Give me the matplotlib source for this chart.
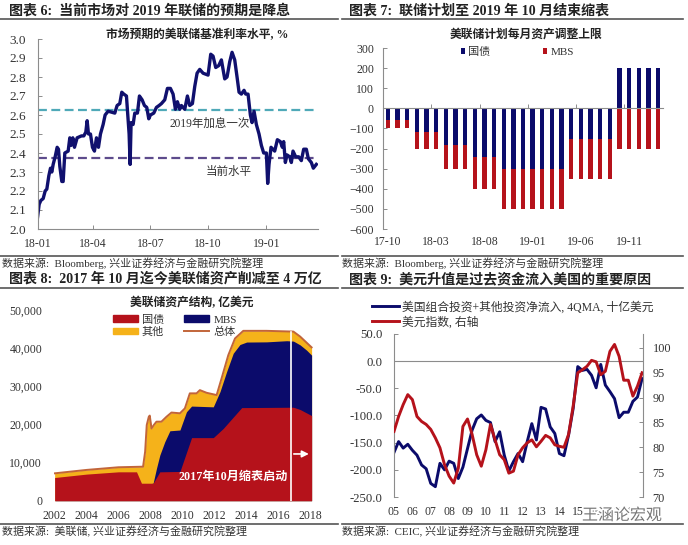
import matplotlib
matplotlib.use("Agg")
import matplotlib.pyplot as plt
import matplotlib.patheffects as pe
from matplotlib.patches import Patch
from matplotlib.lines import Line2D

plt.rcParams['font.family'] = ['Liberation Serif', 'Noto Sans CJK SC', 'DejaVu Sans']

W, H = 688, 545
GRAY = '#8c8c8c'
TXT = '#333333'
NAVY = '#0b0b6b'
RED = '#b5121b'

# chart 6: expected policy rate
rate_t = [0, 5, 10, 17, 23, 28, 34, 39, 43, 47, 53, 59, 63, 67, 73, 77, 82, 92, 97, 101, 106, 111, 119, 132,
          139, 145, 149, 153, 159, 165, 171, 177, 183, 189, 197, 203, 212, 232, 239, 247, 253, 259, 267, 271,
          275, 278, 281, 287, 292, 300, 306, 314, 321, 328, 334, 339, 349, 357, 365, 372, 382, 390, 399, 407,
          414, 420, 427, 432, 442, 450, 457, 465, 472, 479, 487, 497, 512, 520, 527, 535, 544, 552, 562, 569,
          577, 584, 592, 599, 605, 612, 620, 625, 632, 639, 644, 650, 657, 665, 672, 679, 687, 691, 695, 701,
          712, 720, 729, 735, 739, 744, 749, 757, 762, 767, 775, 784, 792, 799, 807, 813, 822, 828, 837]
rate_v = [2.06, 2.13, 2.15, 2.16, 2.20, 2.21, 2.28, 2.32, 2.30, 2.34, 2.38, 2.43, 2.42, 2.33, 2.25, 2.25, 2.40, 2.41,
          2.48, 2.44, 2.48, 2.43, 2.48, 2.49, 2.49, 2.51, 2.57, 2.50, 2.50, 2.43, 2.41, 2.48, 2.43, 2.50, 2.55, 2.60,
          2.62, 2.61, 2.65, 2.66, 2.72, 2.71, 2.70, 2.60, 2.50, 2.34, 2.56, 2.55, 2.61, 2.61, 2.70, 2.68, 2.65, 2.64,
          2.58, 2.60, 2.61, 2.64, 2.65, 2.66, 2.68, 2.74, 2.74, 2.71, 2.63, 2.67, 2.63, 2.65, 2.63, 2.70, 2.65, 2.66,
          2.75, 2.82, 2.84, 2.82, 2.81, 2.92, 2.91, 2.85, 2.86, 2.89, 2.79, 2.80, 2.88, 2.93, 2.89, 2.80, 2.72, 2.71,
          2.73, 2.71, 2.71, 2.60, 2.56, 2.62, 2.55, 2.50, 2.44, 2.40, 2.40, 2.24, 2.34, 2.43, 2.41, 2.47, 2.46, 2.43,
          2.46, 2.35, 2.39, 2.38, 2.35, 2.41, 2.38, 2.38, 2.36, 2.42, 2.42, 2.37, 2.35, 2.32, 2.34]
rate_tick_pos = [0, 167, 339, 512, 687]
rate_tick_lab = ['18-01', '18-04', '18-07', '18-10', '19-01']
hike_level = 2.625
now_level = 2.375

# chart 7: monthly cap
cap_labels = ['17-10', '18-03', '18-08', '19-01', '19-06', '19-11']
cap_tsy = [-60] * 3 + [-120] * 3 + [-180] * 3 + [-240] * 3 + [-300] * 7 + [-150] * 5 + [200] * 5
cap_mbs = [-40] * 3 + [-80] * 3 + [-120] * 3 + [-160] * 3 + [-200] * 7 + [-200] * 5 + [-200] * 5

# chart 8: balance sheet, top edge of each layer
tsy_x = [2002, 2004, 2006, 2007.13, 2007.44, 2008.17, 2008.59, 2009.85, 2010.58, 2011.94, 2012.56, 2013.72, 2016.96, 2017.38, 2018.1]
tsy_y = [6100, 7000, 7600, 7600, 4600, 4600, 7600, 7700, 16600, 16600, 19000, 24500, 24600, 24000, 22400]
mbs_x = [2002, 2008.17, 2008.38, 2008.59, 2008.9, 2009.22, 2009.85, 2010.26, 2010.58, 2011.94, 2012.36, 2012.77, 2013.19, 2013.61,
         2014.03, 2015.28, 2016.54, 2016.96, 2017.38, 2017.79, 2018.1]
mbs_y = [0, 4600, 8500, 12000, 15500, 18400, 18600, 23400, 24900, 24700, 28700, 33900, 38800, 41100, 41750, 41800, 42100, 42000,
         41000, 39600, 38300]
tot_x = [2002, 2004, 2006, 2007.54, 2007.67, 2007.77, 2007.9, 2007.96, 2008.07, 2008.21, 2008.38, 2008.69, 2009.01, 2009.32, 2009.85,
         2010.16, 2010.47, 2010.89, 2011.1, 2011.52, 2012.15, 2012.46, 2012.88, 2013.3, 2013.82, 2015.28, 2016.96, 2017.38, 2018.1]
tot_y = [7200, 8100, 8800, 8950, 12900, 19900, 22100, 22400, 19000, 19900, 20800, 20800, 22100, 23200, 23000, 24300, 28250, 28250,
         29100, 28400, 27800, 32200, 38300, 42700, 44700, 44700, 44500, 43200, 40350]
taper_year = 2016.81
bs_years = list(range(2002, 2019, 2))
bs_ticks = [0, 10000, 20000, 30000, 40000, 50000]

# chart 9: quarterly flows and dollar index, from 05Q1
flow = [-168, -148, -160, -153, -164, -173, -191, -198, -225, -231, -188, -200, -184, -188, -216, -195, -161, -127, -106,
        -99, -109, -113, -148, -130, -173, -202, -185, -170, -185, -148, -115, -145, -85, -88, -121, -133, -170, -174, -136,
        -87, -10, -17, -15, -26, -49, -6, -44, -56, -69, -104, -94, -94, -74, -66, -32]
dxy = [83.2, 86.2, 88.6, 90.6, 89.6, 86.2, 85.2, 84.6, 83.6, 81.9, 79.9, 76.5, 74.2, 72.8, 75.8, 84.2, 85.7, 82.6, 78.5,
       76.2, 79.5, 84.6, 81.5, 78.5, 77.5, 74.8, 75.2, 78.5, 79.9, 80.9, 81.5, 80.1, 81.2, 82.4, 81.9, 80.5, 80.2, 80.0, 82.6,
       88.3, 95.0, 95.6, 96.3, 97.5, 97.2, 94.6, 95.3, 99.3, 100.7, 98.3, 93.5, 93.5, 90.3, 92.3, 95.0]
year_labels = ['05', '06', '07', '08', '09', '10', '11', '12', '13', '14', '15', '16', '17', '18']

fig = plt.figure(figsize=(W / 100, H / 100), dpi=100)


def axes_px(l, t, r, b):
    return fig.add_axes([l / W, 1 - b / H, (r - l) / W, (b - t) / H])


def ftext(x, y, s, **kw):
    kw.setdefault('va', 'center')
    kw.setdefault('color', TXT)
    return fig.text(x / W, 1 - y / H, s, **kw)


def rule(x0, x1, y, color='#555555', lw=1.2):
    fig.add_artist(Line2D([x0 / W, x1 / W], [1 - y / H, 1 - y / H], color=color, lw=lw))


def style(ax, left=True, bottom=True):
    for s in ['top', 'right']:
        ax.spines[s].set_visible(False)
    for s in ['left', 'bottom']:
        ax.spines[s].set_color(GRAY)
        ax.spines[s].set_linewidth(0.8)
    ax.spines['left'].set_visible(left)
    ax.spines['bottom'].set_visible(bottom)
    ax.tick_params(direction='in', length=3, width=0.7, color=GRAY, labelsize=8.5, labelcolor=TXT, pad=4)
    ax.patch.set_alpha(0)


# headers and footers
ftext(9, 11, '图表 6:  当前市场对 2019 年联储的预期是降息', fontsize=10.1, fontweight='bold', color='#222222')
ftext(349, 11, '图表 7:  联储计划至 2019 年 10 月结束缩表', fontsize=10.1, fontweight='bold', color='#222222')
ftext(9, 279, '图表 8:  2017 年 10 月迄今美联储资产削减至 4 万亿', fontsize=10.1, fontweight='bold', color='#222222')
ftext(349, 279, '图表 9:  美元升值是过去资金流入美国的重要原因', fontsize=10.1, fontweight='bold', color='#222222')
rule(0, 338, 19)
rule(342, 683, 19)
rule(0, 338, 288)
rule(342, 683, 288)
rule(0, 338, 256)
rule(342, 683, 256)
rule(0, 338, 524)
rule(342, 683, 524)
ftext(2, 263, '数据来源:  Bloomberg, 兴业证券经济与金融研究院整理', fontsize=7.9)
ftext(342, 263, '数据来源:  Bloomberg, 兴业证券经济与金融研究院整理', fontsize=7.9)
ftext(2, 532, '数据来源:  美联储, 兴业证券经济与金融研究院整理', fontsize=7.9)
ftext(342, 532, '数据来源:  CEIC, 兴业证券经济与金融研究院整理', fontsize=7.9)

# chart 6
ax = axes_px(37.5, 39, 318, 229)
style(ax)
ax.axhline(hike_level, color='#4fa9b8', ls='--', lw=1.6, dashes=(4, 2))
ax.axhline(now_level, color='#5d4b8c', ls='--', lw=1.6, dashes=(4, 2))
ax.plot(rate_t, rate_v, color='#10106e', lw=2.4)
ax.set_xlim(0, 842)
ax.set_ylim(2.0, 3.0)
ax.set_yticks([2.0 + i / 10 for i in range(11)])
ax.set_yticklabels([f'{2.0 + i / 10:.1f}' for i in range(11)], fontsize=9.5)
ax.set_xticks(rate_tick_pos)
ax.set_xticklabels(rate_tick_lab, fontsize=8.5)
ax.tick_params(axis='y', pad=8.5)
ax.tick_params(axis='x', pad=6.5)
ax.text(516, 2.555, '2019年加息一次', fontsize=8.3, ha='center', va='center', color=TXT)
ax.text(575, 2.30, '当前水平', fontsize=8.3, ha='center', va='center', color=TXT)
ftext(197, 35, '市场预期的美联储基准利率水平, %', fontsize=8.5, fontweight='bold', ha='center', color='#222222')

# chart 7
ax = axes_px(383, 48, 663, 229)
style(ax)
pos = list(range(len(cap_tsy)))
mbs_bottom = [t if t < 0 else 0 for t in cap_tsy]
ax.bar(pos, cap_tsy, width=0.45, color=NAVY, label='国债')
ax.bar(pos, cap_mbs, width=0.45, bottom=mbs_bottom, color=RED, label='MBS')
ax.set_xlim(-0.5, 28.5)
ax.set_ylim(-600, 300)
ax.set_yticks(range(-600, 301, 100))
ax.tick_params(axis='y', pad=6.5)
ax.spines['bottom'].set_position(('data', 0))
ax.set_xticks([i - 0.5 for i in range(0, 29, 5)])
ax.tick_params(axis='x', labelbottom=False)
for i, lab in enumerate(cap_labels):
    ax.text(i * 5, -665, lab, ha='center', va='center', fontsize=8.5, color=TXT)
ax.legend(loc='upper center', bbox_to_anchor=(0.48, 1.06), ncol=2, frameon=False, fontsize=8, handlelength=0.4,
          handleheight=0.4, columnspacing=4.7, handletextpad=0.3, labelcolor=TXT)
ftext(526, 35, '美联储计划每月资产调整上限', fontsize=8.5, fontweight='bold', ha='center', color='#222222')

# chart 8
ax = axes_px(54, 310.7, 314, 500.7)
style(ax, left=False, bottom=False)
tot_col = '#c2653a'
ax.fill_between(tot_x, 0, tot_y, color='#f5b21a', lw=0)
ax.fill_between(mbs_x, 0, mbs_y, color=NAVY, lw=0)
ax.fill_between(tsy_x, 0, tsy_y, color=RED, lw=0)
ax.plot(tot_x, tot_y, color=tot_col, lw=1.4)
ax.plot([taper_year, taper_year], [0, 44500], color='white', lw=1.2)
ax.annotate('', xy=(2018.1, 12300), xytext=(taper_year, 12300),
            arrowprops=dict(arrowstyle='-|>', color='white', lw=1.2))
ax.text(2013.2, 6200, '2017年10月缩表启动', color='white', fontsize=8.7, fontweight='bold', ha='center', va='center')
ax.set_xlim(2002 - 0.04, 2018.25)
ax.set_ylim(0, 50000)
ax.set_xticks(bs_years)
ax.set_xticklabels([str(y) for y in bs_years], fontsize=8.5)
ax.set_yticks(bs_ticks)
ax.set_yticklabels([f'{v:,}' for v in bs_ticks], fontsize=8.5)
ax.tick_params(length=0)
ax.tick_params(axis='y', pad=8.5)
ax.tick_params(axis='x', pad=6.5)
handles = [Patch(color=RED, label='国债'), Patch(color='#f5b21a', label='其他'),
           Patch(color=NAVY, label='MBS'), Line2D([], [], color=tot_col, lw=1.4, label='总体')]
ax.legend(handles=handles, ncol=2, frameon=False, fontsize=8, loc='upper left', bbox_to_anchor=(0.225, 0.98),
          handlelength=2.25, handleheight=0.55, columnspacing=1.8, handletextpad=0.4, labelspacing=0.2, labelcolor=TXT,
          borderpad=0, borderaxespad=0)
ftext(192, 303, '美联储资产结构, 亿美元', fontsize=8.5, fontweight='bold', ha='center', color='#222222')

# chart 9
ax = axes_px(394, 334, 643, 497)
style(ax, bottom=False)
qx = list(range(len(flow)))
ln1, = ax.plot(qx, flow, color=NAVY, lw=2.1)
ax.set_xlim(0, 54.2)
ax.set_ylim(-250, 50)
ax.axhline(0, color=GRAY, lw=0.8)
ax.set_yticks(range(-250, 51, 50))
ax.set_yticklabels([f'{v:.1f}' for v in range(-250, 51, 50)], fontsize=9.2)
ax.tick_params(axis='y', pad=8.5)
ax.set_xticks([])
for i, lab in enumerate(year_labels):
    ax.text(i * 4, -277, lab, ha='center', va='center', fontsize=8.5, color=TXT)
ax2 = ax.twinx()
ln2, = ax2.plot(qx, dxy, color=RED, lw=2.1)
ax2.set_ylim(70, 102.8)
ax2.set_yticks(range(70, 101, 5))
ax2.set_xlim(0, 54.2)
for s in ['top', 'left', 'bottom']:
    ax2.spines[s].set_visible(False)
ax2.spines['right'].set_color(GRAY)
ax2.spines['right'].set_linewidth(0.8)
ax2.tick_params(direction='in', length=3, width=0.7, color=GRAY, labelsize=8.8, labelcolor=TXT, pad=7)
ax2.patch.set_alpha(0)
fig.legend([ln1, ln2], ['美国组合投资+其他投资净流入, 4QMA, 十亿美元', '美元指数, 右轴'], frameon=False, fontsize=8.5,
           loc='upper left', bbox_to_anchor=(372 / W, 1 - 301 / H), handlelength=2.3, handletextpad=0.2,
           labelspacing=0.2, labelcolor=TXT, borderpad=0, borderaxespad=0)

# watermark
ftext(622, 516, '王涵论宏观', fontsize=11.5, color='#777777', ha='center',
      path_effects=[pe.withStroke(linewidth=2.5, foreground='white')])

fig.savefig('out.png', dpi=100)
